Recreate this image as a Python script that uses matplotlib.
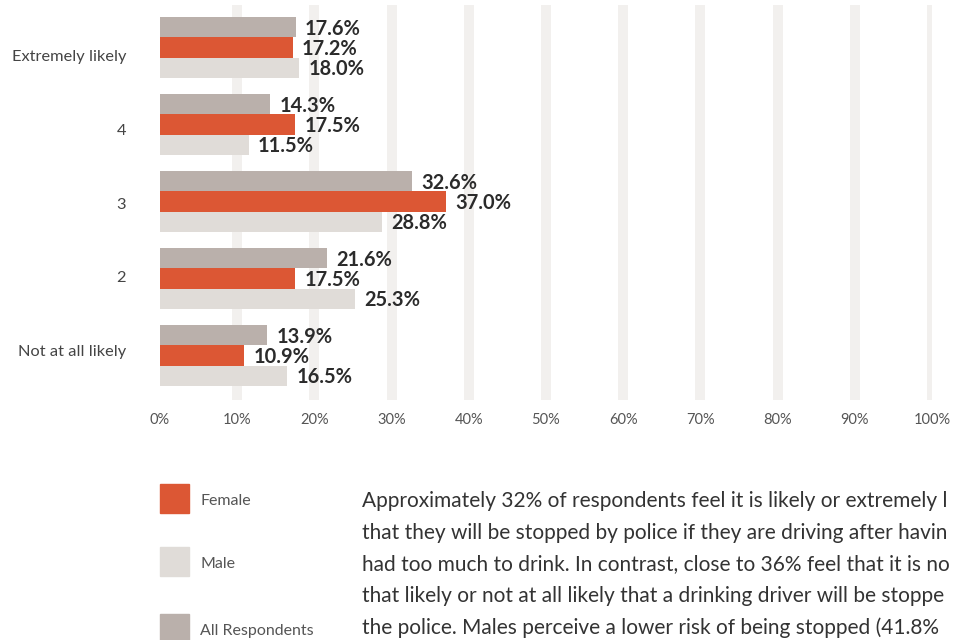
import matplotlib
matplotlib.use("Agg")
import matplotlib.pyplot as plt
from matplotlib.patches import Rectangle
import numpy as np

plt.rcParams['font.family'] = ['Lato', 'DejaVu Sans']

categories = ["Extremely likely", "4", "3", "2", "Not at all likely"]
all_resp = [17.6, 14.3, 32.6, 21.6, 13.9]
female = [17.2, 17.5, 37.0, 17.5, 10.9]
male = [18.0, 11.5, 28.8, 25.3, 16.5]
xticks = [0, 10, 20, 30, 40, 50, 60, 70, 80, 90, 100]
xtick_labels = [f"{t}%" for t in xticks]
legend_labels = ["Female", "Male", "All Respondents"]
paragraph = [
    "Approximately 32% of respondents feel it is likely or extremely l",
    "that they will be stopped by police if they are driving after havin",
    "had too much to drink. In contrast, close to 36% feel that it is no",
    "that likely or not at all likely that a drinking driver will be stoppe",
    "the police. Males perceive a lower risk of being stopped (41.8%",
]

C_ALL = "#BAB0AB"
C_FEM = "#DC5734"
C_MALE = "#E0DCD8"
C_GRID = "#F2F0EE"

W, H = 958, 640
fig = plt.figure(figsize=(W / 100, H / 100), dpi=100)
ax = fig.add_axes([160 / W, (H - 400) / H, 772 / W, 395 / H])

y = np.arange(len(categories))
bh = 0.26
series = [(all_resp, C_ALL, -bh), (female, C_FEM, 0.0), (male, C_MALE, bh)]
for vals, col, off in series:
    ax.barh(y + off, vals, height=bh, color=col, zorder=2)
    for yi, v in zip(y, vals):
        ax.text(v + 1.2, yi + off + 0.015, f"{v:.1f}%", va="center", ha="left",
                fontsize=14.4, fontweight="bold", color="#2B2B2B", zorder=3)

for t in xticks[1:]:
    ax.axvline(t, color=C_GRID, linewidth=7.2, zorder=0)

ax.set_xlim(0, 100)
ax.set_ylim(4.578, -0.552)
ax.set_xticks(xticks)
ax.set_xticklabels(xtick_labels, fontsize=10.5, color="#555555")
ax.tick_params(axis="x", length=0, pad=9)
ax.set_yticks([])
for i, c in enumerate(categories):
    ax.text(-4.4, 0.12 + i * 0.96, c, ha="right", va="center",
            fontsize=11.8, color="#444444")
for s in ax.spines.values():
    s.set_visible(False)

# legend
leg_tops = [484, 547, 614]
leg_cols = [C_FEM, C_MALE, C_ALL]
for top, col, lab in zip(leg_tops, leg_cols, legend_labels):
    fig.patches.append(Rectangle((160 / W, 1 - (top + 29) / H), 29 / W, 29 / H,
                                 transform=fig.transFigure, color=col))
    fig.text(200 / W, 1 - (top + 17) / H, lab, ha="left", va="center",
             fontsize=11.5, color="#555555")

for i, line in enumerate(paragraph):
    fig.text(362 / W, 1 - (507 + i * 31.7) / H, line, ha="left", va="baseline",
             fontsize=15.0, color="#333333")

fig.savefig("out.png", dpi=100)
